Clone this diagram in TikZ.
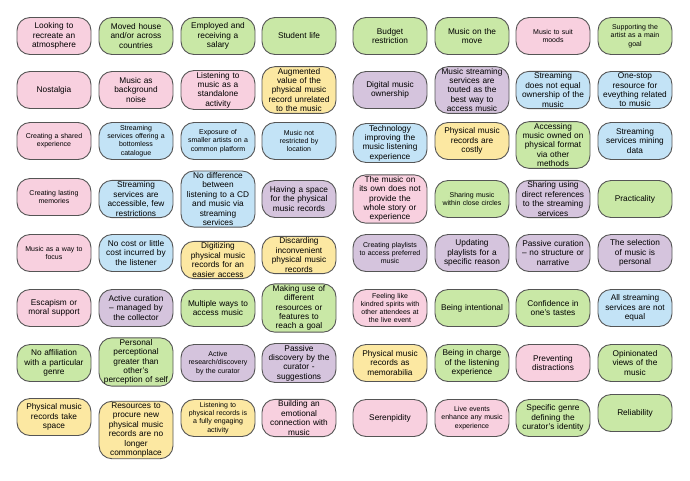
\documentclass[tikz,border=0pt]{standalone}
\usepackage{fontspec}
\setmainfont{Liberation Sans}
\definecolor{cpink}{HTML}{F8D0DF}
\definecolor{cgreen}{HTML}{C9E8A6}
\definecolor{cblue}{HTML}{C3E3F6}
\definecolor{cpurp}{HTML}{D5C4DD}
\definecolor{cyell}{HTML}{FCE8A2}
\definecolor{cline}{HTML}{555555}
\begin{document}
\begin{tikzpicture}[x=1pt,y=-1pt,
 card/.style={draw=cline,line width=0.9pt,rounded corners=13pt,minimum width=74pt,minimum height=37pt,text width=72pt,inner xsep=1pt,inner ysep=1.5pt,align=center,font=\fontsize{8.3}{9.4}\selectfont},
 sm/.style={font=\fontsize{7}{8.3}\selectfont},
 P/.style={card,fill=cpink},G/.style={card,fill=cgreen},B/.style={card,fill=cblue},
 U/.style={card,fill=cpurp},Y/.style={card,fill=cyell}]
\useasboundingbox (0,0) rectangle (690,480);
% row 1
\node[P] (a1) at (54,36) {Looking to\\recreate an\\atmosphere};
\node[G] (b1) at (136,36) {Moved house\\and/or across\\countries};
\node[G] (c1) at (218,36) {Employed and\\receiving a\\salary};
\node[G] (d1) at (299,36) {Student life};
\node[G] (e1) at (390,36) {Budget\\restriction};
\node[G] (f1) at (472,36) {Music on the\\move};
\node[P,sm] (g1) at (553,36) {Music to suit\\moods};
\node[G,sm] (h1) at (635,36) {Supporting the\\artist as a main\\goal};
% row 2
\node[P] (a2) at (54,90) {Nostalgia};
\node[P] (b2) at (136,90) {Music as\\background\\noise};
\node[P] (c2) at (218,90) {Listening to\\music as a\\standalone\\activity};
\node[Y] (d2) at (299,90) {Augmented\\value of the\\physical music\\record unrelated\\to the music};
\node[U] (e2) at (390,90) {Digital music\\ownership};
\node[U] (f2) at (472,90) {Music streaming\\services are\\touted as the\\best way to\\access music};
\node[B] (g2) at (553,90) {Streaming\\does not equal\\ownership of the\\music};
\node[B] (h2) at (635,90) {One-stop\\resource for\\eveything related\\to music};
% row 3
\node[P,sm] (a3) at (54,141) {Creating a shared\\experience};
\node[B,sm] (b3) at (136,141) {Streaming\\services offering a\\bottomless\\catalogue};
\node[B,sm] (c3) at (218,141) {Exposure of\\smaller artists on a\\common platform};
\node[B,sm] (d3) at (299,141) {Music not\\restricted by\\location};
\node[B] (e3) at (390,143) {Technology\\improving the\\music listening\\experience};
\node[Y] (f3) at (472,141) {Physical music\\records are\\costly};
\node[G] (g3) at (553,145) {Accessing\\music owned on\\physical format\\via other\\methods};
\node[B] (h3) at (635,141) {Streaming\\services mining\\data};
% row 4
\node[P,sm] (a4) at (54,197) {Creating lasting\\memories};
\node[B] (b4) at (136,199) {Streaming\\services are\\accessible, few\\restrictions};
\node[B] (c4) at (218,199) {No difference\\between\\listening to a CD\\and music via\\streaming\\services};
\node[U] (d4) at (299,199) {Having a space\\for the physical\\music records};
\node[P] (e4) at (390,199) {The music on\\its own does not\\provide the\\whole story or\\experience};
\node[G,sm] (f4) at (472,199) {Sharing music\\within close circles};
\node[U] (g4) at (553,199) {Sharing using\\direct references\\to the streaming\\services};
\node[G] (h4) at (635,199) {Practicality};
% row 5
\node[P,sm] (a5) at (54,253) {Music as a way to\\focus};
\node[B] (b5) at (136,253) {No cost or little\\cost incurred by\\the listener};
\node[Y] (c5) at (218,260) {Digitizing\\physical music\\records for an\\easier access};
\node[Y] (d5) at (299,255) {Discarding\\inconvenient\\physical music\\records};
\node[U,sm] (e5) at (390,253) {Creating playlists\\to access preferred\\music};
\node[U] (f5) at (472,253) {Updating\\playlists for a\\specific reason};
\node[U] (g5) at (553,253) {Passive curation\\– no structure or\\narrative};
\node[U] (h5) at (635,253) {The selection\\of music is\\personal};
% row 6
\node[P] (a6) at (54,308) {Escapism or\\moral support};
\node[U] (b6) at (136,308) {Active curation\\– managed by\\the collector};
\node[G] (c6) at (218,308) {Multiple ways to\\access music};
\node[G] (d6) at (299,308) {Making use of\\different\\resources or\\features to\\reach a goal};
\node[P,sm] (e6) at (390,308) {Feeling like\\kindred spirits with\\other attendees at\\the live event};
\node[G] (f6) at (472,308) {Being intentional};
\node[G] (g6) at (553,308) {Confidence in\\one's tastes};
\node[B] (h6) at (635,308) {All streaming\\services are not\\equal};
% row 7
\node[G] (a7) at (54,363) {No affiliation\\with a particular\\genre};
\node[G] (b7) at (136,362) {Personal\\perceptional\\greater than\\other's\\perception of self};
\node[U,sm] (c7) at (218,363) {Active\\research/discovery\\by the curator};
\node[U] (d7) at (299,363) {Passive\\discovery by the\\curator -\\suggestions};
\node[Y] (e7) at (390,363) {Physical music\\records as\\memorabilia};
\node[G] (f7) at (472,363) {Being in charge\\of the listening\\experience};
\node[P] (g7) at (553,363) {Preventing\\distractions};
\node[G] (h7) at (635,363) {Opinionated\\views of the\\music};
% row 8
\node[Y] (a8) at (54,417) {Physical music\\records take\\space};
\node[Y] (b8) at (136,430) {Resources to\\procure new\\physical music\\records are no\\longer\\commonplace};
\node[Y,sm] (c8) at (218,418) {Listening to\\physical records is\\a fully engaging\\activity};
\node[P] (d8) at (299,418) {Building an\\emotional\\connection with\\music};
\node[P] (e8) at (390,418) {Serenpidity};
\node[P,sm] (f8) at (472,418) {Live events\\enhance any music\\experience};
\node[G] (g8) at (553,418) {Specific genre\\defining the\\curator's identity};
\node[G] (h8) at (635,413) {Reliability};
\end{tikzpicture}
\end{document}
